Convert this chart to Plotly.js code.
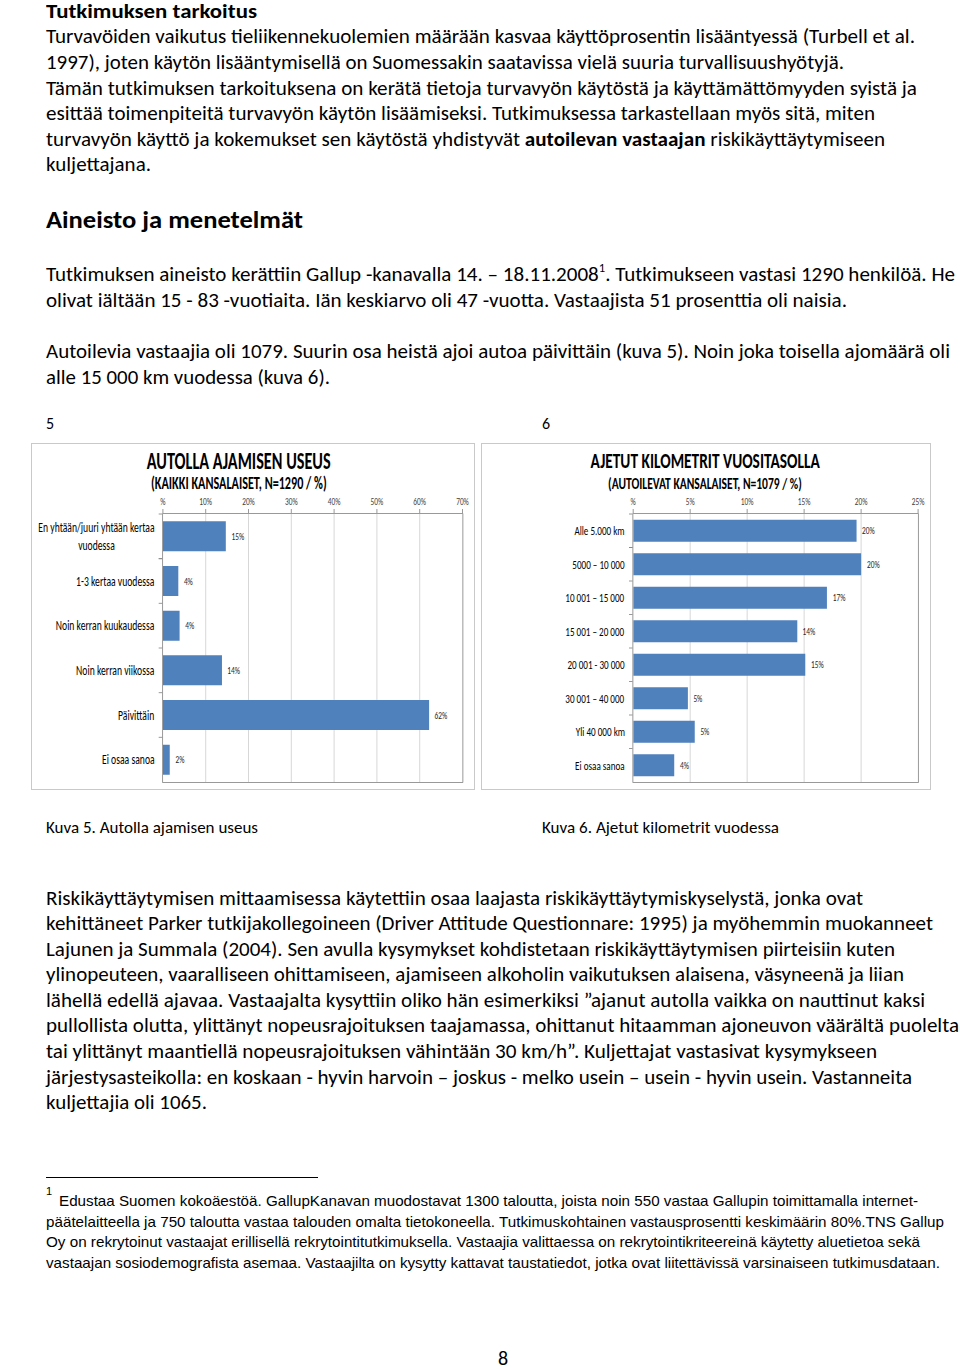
<!DOCTYPE html>
<html><head><meta charset="utf-8">
<script src="https://cdn.plot.ly/plotly-3.0.1.min.js"></script>
<style>
body{margin:0;background:#fff;width:960px;height:1369px;position:relative;overflow:hidden;font-family:Carlito,Lato,"Open Sans",sans-serif;color:#000}
.ln{position:absolute;left:46px;white-space:nowrap;font-size:19.5px;line-height:26px;height:26px;transform-origin:0 50%}
.h1{font-weight:bold;font-size:21px;line-height:22px;height:22px}
.h2{font-weight:bold;font-size:25px;line-height:32px;height:32px}
.cap{font-size:16px;line-height:20px;height:20px}
.fn{font-family:"Liberation Sans",Arial,sans-serif;font-size:14.3px;line-height:20px;height:20px}
.wrap{position:absolute;top:443px;height:347px;border:1px solid #c9c9c9;box-sizing:border-box;background:#fff;overflow:hidden}
.sq{transform-origin:0 0}
sup{font-size:0.6em;line-height:0;vertical-align:0.75em}
</style></head>
<body>
<div class="ln h1" style="top:0px" data-r="257">Tutkimuksen tarkoitus</div>
<div class="ln" style="top:23px" data-r="915">Turvavöiden vaikutus tieliikennekuolemien määrään kasvaa käyttöprosentin lisääntyessä (Turbell et al.</div>
<div class="ln" style="top:49px" data-r="844">1997), joten käytön lisääntymisellä on Suomessakin saatavissa vielä suuria turvallisuushyötyjä.</div>
<div class="ln" style="top:75px" data-r="917">Tämän tutkimuksen tarkoituksena on kerätä tietoja turvavyön käytöstä ja käyttämättömyyden syistä ja</div>
<div class="ln" style="top:100px" data-r="875">esittää toimenpiteitä turvavyön käytön lisäämiseksi. Tutkimuksessa tarkastellaan myös sitä, miten</div>
<div class="ln" style="top:126px" data-r="885">turvavyön käyttö ja kokemukset sen käytöstä yhdistyvät <b>autoilevan vastaajan</b> riskikäyttäytymiseen</div>
<div class="ln" style="top:151px" data-r="151">kuljettajana.</div>
<div class="ln h2" style="top:204px" data-r="303">Aineisto ja menetelmät</div>
<div class="ln" style="top:261px" data-r="955">Tutkimuksen aineisto kerättiin Gallup -kanavalla 14. – 18.11.2008<sup>1</sup>. Tutkimukseen vastasi 1290 henkilöä. He</div>
<div class="ln" style="top:287px" data-r="847">olivat iältään 15 - 83 -vuotiaita. Iän keskiarvo oli 47 -vuotta. Vastaajista 51 prosenttia oli naisia.</div>
<div class="ln" style="top:338px" data-r="950">Autoilevia vastaajia oli 1079. Suurin osa heistä ajoi autoa päivittäin (kuva 5). Noin joka toisella ajomäärä oli</div>
<div class="ln" style="top:364px" data-r="330">alle 15 000 km vuodessa (kuva 6).</div>
<div class="ln cap" style="top:414px">5</div>
<div class="ln cap" style="top:414px;left:542px">6</div>

<div class="wrap" style="left:31px;width:444px"><div id="c1" class="sq"></div></div>
<div class="wrap" style="left:481px;width:450px"><div id="c2" class="sq"></div></div>

<div class="ln cap" style="top:818px" data-r="258">Kuva 5. Autolla ajamisen useus</div>
<div class="ln cap" style="top:818px;left:542px" data-r="779">Kuva 6. Ajetut kilometrit vuodessa</div>

<div class="ln" style="top:885px" data-r="863">Riskikäyttäytymisen mittaamisessa käytettiin osaa laajasta riskikäyttäytymiskyselystä, jonka ovat</div>
<div class="ln" style="top:910px" data-r="933">kehittäneet Parker tutkijakollegoineen (Driver Attitude Questionnare: 1995) ja myöhemmin muokanneet</div>
<div class="ln" style="top:936px" data-r="895">Lajunen ja Summala (2004). Sen avulla kysymykset kohdistetaan riskikäyttäytymisen piirteisiin kuten</div>
<div class="ln" style="top:961px" data-r="904">ylinopeuteen, vaaralliseen ohittamiseen, ajamiseen alkoholin vaikutuksen alaisena, väsyneenä ja liian</div>
<div class="ln" style="top:987px" data-r="925">lähellä edellä ajavaa. Vastaajalta kysyttiin oliko hän esimerkiksi ”ajanut autolla vaikka on nauttinut kaksi</div>
<div class="ln" style="top:1012px" data-r="959">pullollista olutta, ylittänyt nopeusrajoituksen taajamassa, ohittanut hitaamman ajoneuvon väärältä puolelta</div>
<div class="ln" style="top:1038px" data-r="877">tai ylittänyt maantiellä nopeusrajoituksen vähintään 30 km/h”. Kuljettajat vastasivat kysymykseen</div>
<div class="ln" style="top:1064px" data-r="912">järjestysasteikolla: en koskaan - hyvin harvoin – joskus - melko usein – usein - hyvin usein. Vastanneita</div>
<div class="ln" style="top:1089px" data-r="207">kuljettajia oli 1065.</div>

<div style="position:absolute;left:46px;top:1177px;width:272px;height:1px;background:#000"></div>
<div class="ln fn" style="top:1181px;font-size:11px">1</div>
<div class="ln fn" style="top:1191px;left:59px" data-r="918">Edustaa Suomen kokoäestöä. GallupKanavan muodostavat 1300 taloutta, joista noin 550 vastaa Gallupin toimittamalla internet-</div>
<div class="ln fn" style="top:1212px" data-r="944">päätelaitteella ja 750 taloutta vastaa talouden omalta tietokoneella. Tutkimuskohtainen vastausprosentti keskimäärin 80%.TNS Gallup</div>
<div class="ln fn" style="top:1232px" data-r="920">Oy on rekrytoinut vastaajat erillisellä rekrytointitutkimuksella. Vastaajia valittaessa on rekrytointikriteereinä käytetty aluetietoa sekä</div>
<div class="ln fn" style="top:1253px" data-r="940">vastaajan sosiodemografista asemaa. Vastaajilta on kysytty kattavat taustatiedot, jotka ovat liitettävissä varsinaiseen tutkimusdataan.</div>

<div class="ln" style="top:1345px;left:498px;font-size:20px">8</div>

<script>
// ---- Chart 5 data ----
const cats1 = ["En yhtään/juuri yhtään kertaa<br>vuodessa", "1-3 kertaa vuodessa", "Noin kerran kuukaudessa", "Noin kerran viikossa", "Päivittäin", "Ei osaa sanoa"];
const vals1 = [14.7, 3.6, 3.9, 13.8, 62.2, 1.6];
const tickVals1 = [0, 10, 20, 30, 40, 50, 60, 70];
const tickText1 = ["%", "10%", "20%", "30%", "40%", "50%", "60%", "70%"];
const title1 = "AUTOLLA AJAMISEN USEUS";
const sub1 = "(KAIKKI KANSALAISET, N=1290 / %)";

// ---- Chart 6 data ----
const cats2 = ["Alle 5.000 km", "5000 – 10 000", "10 001 – 15 000", "15 001 – 20 000", "20 001 - 30 000", "30 001 – 40 000", "Yli 40 000 km", "Ei osaa sanoa"];
const vals2 = [19.6, 20.0, 17.0, 14.4, 15.1, 4.8, 5.4, 3.6];
const tickVals2 = [0, 5, 10, 15, 20, 25];
const tickText2 = ["%", "5%", "10%", "15%", "20%", "25%"];
const title2 = "AJETUT KILOMETRIT VUOSITASOLLA";
const sub2 = "(AUTOILEVAT KANSALAISET, N=1079 / %)";

const CF = 'Carlito, Lato, sans-serif';
const BLUE = '#4f81bd';
const K = 0.7; // horizontal squeeze of the chart images

function makeChart(id, cats, vals, tv, tt, title, sub, o) {
  const W = o.w / K;
  const el = document.getElementById(id);
  el.style.width = W + 'px'; el.style.height = '345px';
  el.style.transform = 'scaleX(' + K + ')';
  const trace = {type:'bar', orientation:'h', x: vals, y: cats, marker:{color:BLUE}, hoverinfo:'skip'};
  const ann = [];
  cats.forEach((c, i) => {
    ann.push({xref:'paper', yref:'y', x:0, y:c, xanchor:'right', yanchor:'middle', xshift:-10, align:'center',
      text:c, showarrow:false, font:{family:CF, size:o.catSize, color:'#000'}});
    ann.push({xref:'x', yref:'y', x:vals[i], y:c, xanchor:'left', yanchor:'middle', xshift:6,
      text:Math.round(vals[i]) + '%', showarrow:false, font:{family:CF, size:10.5, color:'#262626'}});
  });
  ann.push({xref:'paper', yref:'paper', x:o.tx, y:1.198, xanchor:'center', yanchor:'middle', text:'<b>'+title+'</b>',
    showarrow:false, font:{family:CF, size:o.tSize, color:'#000'}});
  ann.push({xref:'paper', yref:'paper', x:o.tx, y:1.116, xanchor:'center', yanchor:'middle', text:'<b>'+sub+'</b>',
    showarrow:false, font:{family:CF, size:o.sSize, color:'#000'}});
  const layout = {
    width: W, height: 345,
    margin: {l: o.l / K, r: o.r / K, t: 70, b: 7, pad: 0},
    paper_bgcolor:'#fff', plot_bgcolor:'#fff',
    showlegend:false, bargap: o.gap,
    xaxis: {side:'top', range:[0, tv[tv.length-1]], tickvals:tv, ticktext:tt, ticks:'outside', ticklen:4, tickcolor:'#868686',
      showgrid:true, gridcolor:'#d0d0d0', gridwidth:1, showline:true, linecolor:'#868686', mirror:true, zeroline:false,
      tickfont:{family:CF, size:10.5, color:'#404040'}, fixedrange:true},
    yaxis: {type:'category', categoryarray:cats, autorange:'reversed', showticklabels:false, ticks:'outside', ticklen:5,
      tickson:'boundaries', tickcolor:'#868686', showline:true, linecolor:'#868686', mirror:true, showgrid:false, zeroline:false, fixedrange:true},
    annotations: ann
  };
  Plotly.newPlot(id, [trace], layout, {staticPlot:true, displayModeBar:false});
}

makeChart('c1', cats1, vals1, tickVals1, tickText1, title1, sub1, {w:442, l:131, r:11, gap:0.33, catSize:13.8, tx:0.2533, tSize:23.2, sSize:17.4});
makeChart('c2', cats2, vals2, tickVals2, tickText2, title2, sub2, {w:448, l:151, r:12, gap:0.34, catSize:13, tx:0.2526, tSize:22, sSize:16.5});

// fit text lines to their measured widths in the reference
function fit() {
  document.querySelectorAll('.ln[data-r]').forEach(el => {
    el.style.transform = 'none';
    const left = parseFloat(el.style.left || 46);
    const target = parseFloat(el.dataset.r) - left;
    const w = el.getBoundingClientRect().width;
    if (w > 0) el.style.transform = 'scaleX(' + (target / w) + ')';
  });
}
document.querySelectorAll('.ln').forEach(el => { el.style.display = 'inline-block'; });
fit();
if (document.fonts && document.fonts.ready) document.fonts.ready.then(fit);
</script>
</body></html>
